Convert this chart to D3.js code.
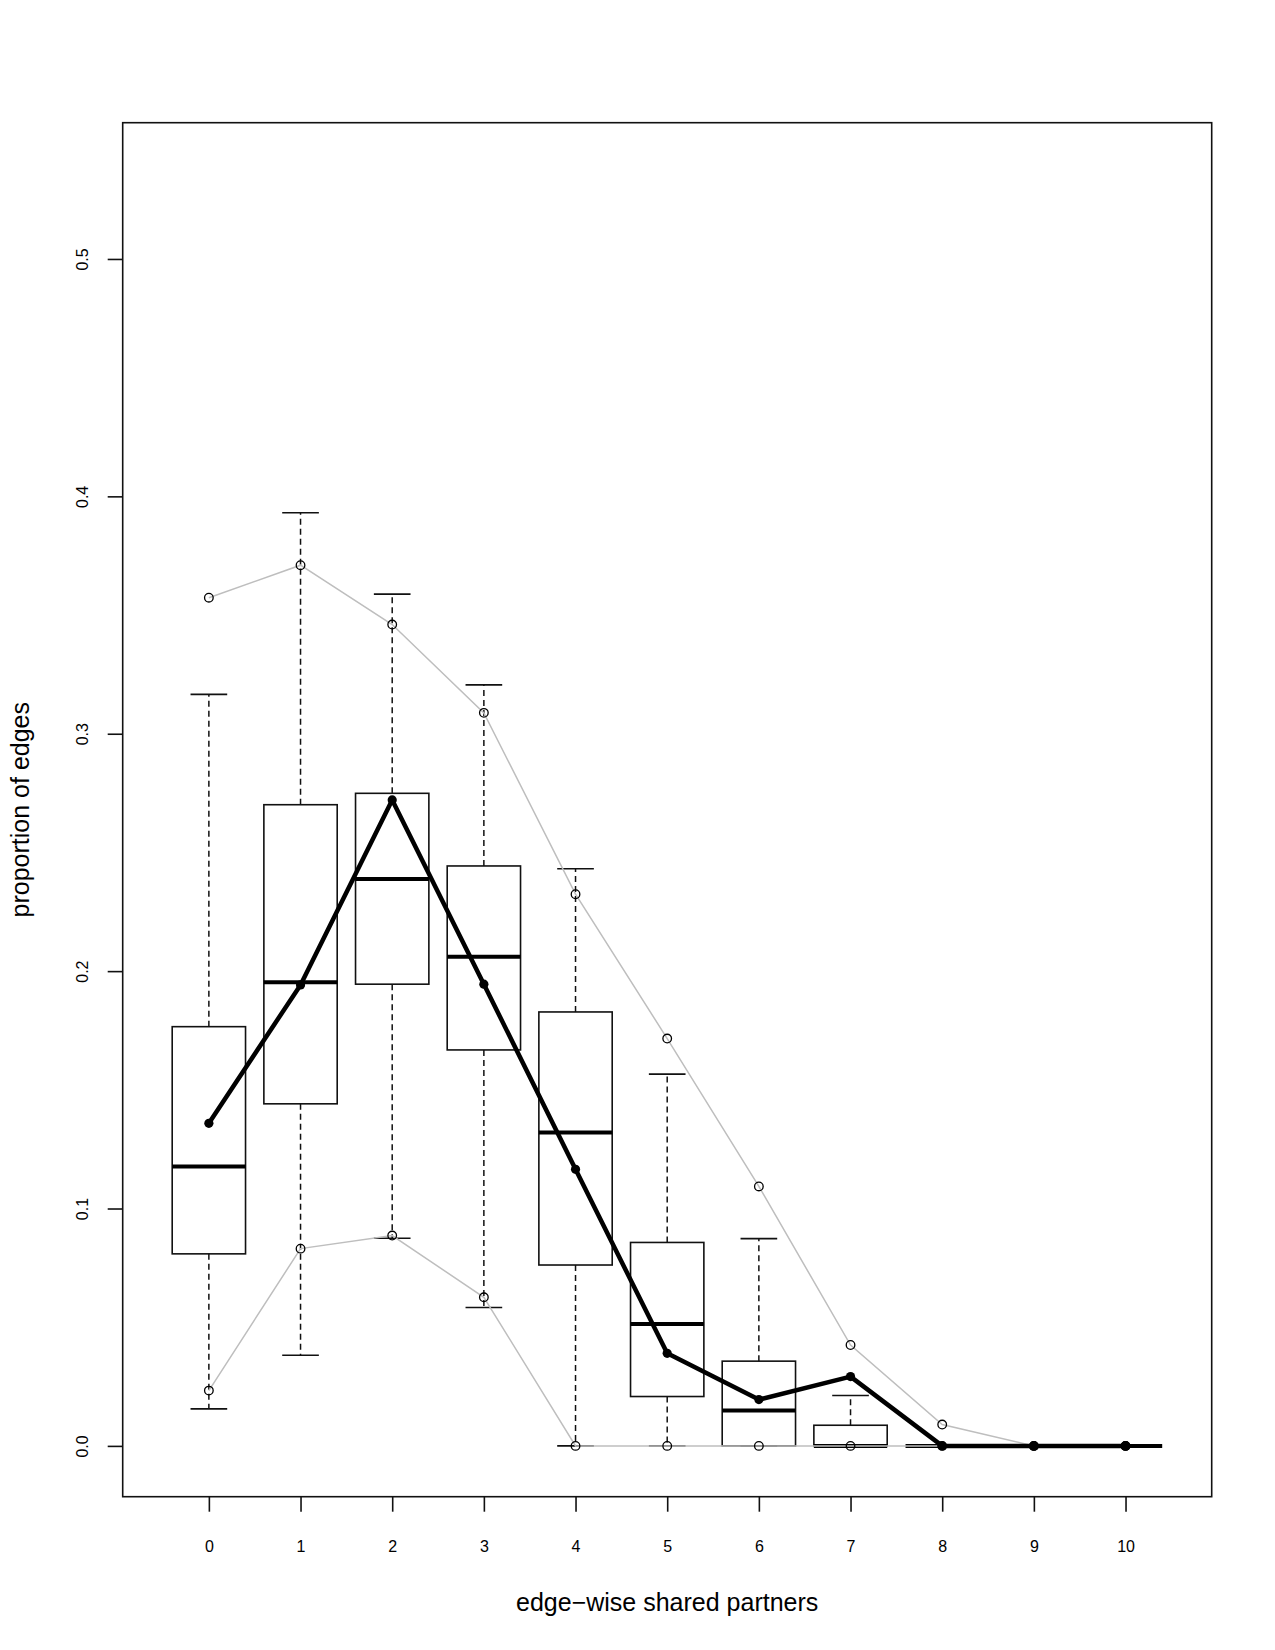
<!DOCTYPE html>
<html>
<head>
<meta charset="utf-8">
<script src="https://cdn.jsdelivr.net/npm/d3@7"></script>
<style>
  html, body { margin: 0; padding: 0; background: #fff; }
  svg { display: block; }
  text { font-family: "Liberation Sans", Arial, Helvetica, sans-serif; fill: #000; }
</style>
</head>
<body>
<svg id="chart" width="1275" height="1650"></svg>
<script>
// ---- data ----
const categories   = [0, 1, 2, 3, 4, 5, 6, 7, 8, 9, 10];
const lowerWhisker = [0.0156, 0.0382, 0.0875, 0.0583, 0, 0, 0, 0, 0, 0, 0];
const q1           = [0.0809, 0.1441, 0.1945, 0.1668, 0.0762, 0.0208, 0, 0, 0, 0, 0];
const medians      = [0.1177, 0.1953, 0.2388, 0.2061, 0.1320, 0.0514, 0.0149, 0, 0, 0, 0];
const q3           = [0.1766, 0.2701, 0.2749, 0.2443, 0.1828, 0.0857, 0.0357, 0.0087, 0, 0, 0];
const upperWhisker = [0.3166, 0.3931, 0.3588, 0.3206, 0.2431, 0.1566, 0.0873, 0.0212, 0, 0, 0];
const observed     = [0.1359, 0.1942, 0.2721, 0.1945, 0.1165, 0.0390, 0.0195, 0.0292, 0, 0, 0];
const simHigh      = [0.3573, 0.3710, 0.3460, 0.3088, 0.2324, 0.1716, 0.1093, 0.0425, 0.0090, 0, 0];
const simLow       = [0.0233, 0.0831, 0.0886, 0.0626, 0, 0, 0, 0, 0, 0, 0];
const yTicks       = [0, 0.1, 0.2, 0.3, 0.4, 0.5];
const xTitle = "edge\u2212wise shared partners";
const yTitle = "proportion of edges";

// ---- layout ----
const pLeft = 122.7, pRight = 1211.7, pTop = 122.7, pBottom = 1496.7;
const svg = d3.select("#chart");

const x = d3.scaleLinear().domain([-0.94, 10.94]).range([pLeft, pRight]);
const y = d3.scaleLinear().domain([-0.0214, 0.5574]).range([pBottom, pTop]);
const unit = x(1) - x(0);
const boxHalf = 0.4 * unit, capHalf = 0.2 * unit;

const rows = categories.map((c, i) => ({
  c, lo: lowerWhisker[i], q1: q1[i], med: medians[i], q3: q3[i], hi: upperWhisker[i]
}));

const boxes = svg.append("g");
// whiskers (dashed)
boxes.append("g").selectAll("line").data(rows.filter(d => d.hi > d.q3)).join("line")
  .attr("x1", d => x(d.c)).attr("x2", d => x(d.c))
  .attr("y1", d => y(d.q3)).attr("y2", d => y(d.hi))
  .attr("stroke", "#111").attr("stroke-width", 1.5).attr("stroke-dasharray", "6,4");
boxes.append("g").selectAll("line").data(rows.filter(d => d.lo < d.q1)).join("line")
  .attr("x1", d => x(d.c)).attr("x2", d => x(d.c))
  .attr("y1", d => y(d.q1)).attr("y2", d => y(d.lo))
  .attr("stroke", "#111").attr("stroke-width", 1.5).attr("stroke-dasharray", "6,4");
// caps
["hi", "lo"].forEach(k => {
  boxes.append("g").selectAll("line").data(rows).join("line")
    .attr("x1", d => x(d.c) - capHalf).attr("x2", d => x(d.c) + capHalf)
    .attr("y1", d => y(d[k])).attr("y2", d => y(d[k]))
    .attr("stroke", "#111").attr("stroke-width", 1.6);
});
// boxes
boxes.append("g").selectAll("rect").data(rows).join("rect")
  .attr("x", d => x(d.c) - boxHalf).attr("width", 2 * boxHalf)
  .attr("y", d => y(d.q3)).attr("height", d => y(d.q1) - y(d.q3))
  .attr("fill", "none").attr("stroke", "#111").attr("stroke-width", 1.6);
// medians
boxes.append("g").selectAll("line").data(rows).join("line")
  .attr("x1", d => x(d.c) - boxHalf).attr("x2", d => x(d.c) + boxHalf)
  .attr("y1", d => y(d.med)).attr("y2", d => y(d.med))
  .attr("stroke", "#000").attr("stroke-width", 4);

// simulation quantile lines (gray)
const line = d3.line().x((d, i) => x(categories[i])).y(d => y(d));
[simHigh, simLow].forEach(arr => {
  svg.append("path").datum(arr).attr("d", line)
    .attr("fill", "none").attr("stroke", "#bebebe").attr("stroke-width", 1.5);
  svg.append("g").selectAll("circle").data(arr).join("circle")
    .attr("cx", (d, i) => x(categories[i])).attr("cy", d => y(d)).attr("r", 4.3)
    .attr("fill", "none").attr("stroke", "#000").attr("stroke-width", 1.3);
});

// observed line
svg.append("path").datum(observed).attr("d", line)
  .attr("fill", "none").attr("stroke", "#000").attr("stroke-width", 4.5)
  .attr("stroke-linejoin", "round");
svg.append("g").selectAll("circle").data(observed).join("circle")
  .attr("cx", (d, i) => x(categories[i])).attr("cy", d => y(d)).attr("r", 4.6)
  .attr("fill", "#000");

// frame
svg.append("rect").attr("x", pLeft).attr("y", pTop)
  .attr("width", pRight - pLeft).attr("height", pBottom - pTop)
  .attr("fill", "none").attr("stroke", "#111").attr("stroke-width", 1.6);

// x axis
const xAxis = svg.append("g").attr("transform", `translate(0,${pBottom})`)
  .call(d3.axisBottom(x).tickValues(categories).tickFormat(d3.format("d")).tickSize(15).tickSizeOuter(0));
xAxis.select(".domain").remove();
xAxis.selectAll(".tick line").attr("stroke", "#111").attr("stroke-width", 1.6);
xAxis.selectAll(".tick text").attr("y", 0).attr("dy", null)
  .attr("transform", "translate(0,55)")
  .style("font-size", "16px").style("font-family", "Liberation Sans, Arial, sans-serif");

// y axis
const yAxis = svg.append("g").attr("transform", `translate(${pLeft},0)`)
  .call(d3.axisLeft(y).tickValues(yTicks).tickFormat(d3.format(".1f")).tickSize(15).tickSizeOuter(0));
yAxis.select(".domain").remove();
yAxis.selectAll(".tick line").attr("stroke", "#111").attr("stroke-width", 1.6);
yAxis.selectAll(".tick text").attr("x", null).attr("dy", null)
  .attr("text-anchor", "middle")
  .attr("transform", `translate(${88 - pLeft},0) rotate(-90)`)
  .style("font-size", "16px").style("font-family", "Liberation Sans, Arial, sans-serif");

// titles
svg.append("text").attr("x", (pLeft + pRight) / 2).attr("y", 1611)
  .attr("text-anchor", "middle").style("font-size", "25px").text(xTitle);
svg.append("text").attr("transform", `translate(29,${(pTop + pBottom) / 2}) rotate(-90)`)
  .attr("text-anchor", "middle").style("font-size", "25px").text(yTitle);
</script>
</body>
</html>
